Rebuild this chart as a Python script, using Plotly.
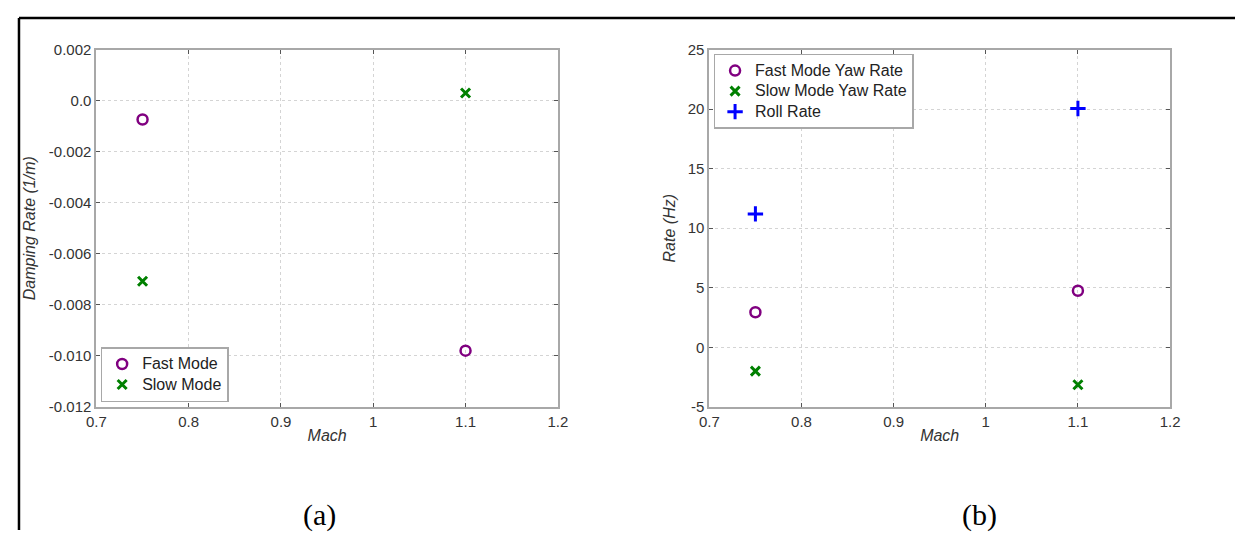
import plotly.graph_objects as go

# Page body has an 8px default margin; size the figure so the page fits the window exactly.
OFF = 8
W, H = 1253 - 2 * OFF, 546 - 2 * OFF

mach = [0.75, 1.1]
fast_damping = [-0.00074, -0.0098]
slow_damping = [-0.00708, 0.0003]
fast_yaw = [2.94, 4.75]
slow_yaw = [-2.0, -3.15]
roll_rate = [11.2, 20.05]

x_ticks = [0.7, 0.8, 0.9, 1.0, 1.1, 1.2]
x_ticktext = ["0.7", "0.8", "0.9", "1", "1.1", "1.2"]
left_yticks = [0.002, 0.0, -0.002, -0.004, -0.006, -0.008, -0.010, -0.012]
left_yticktext = ["0.002", "0.0", "-0.002", "-0.004", "-0.006", "-0.008", "-0.010", "-0.012"]
right_yticks = [25, 20, 15, 10, 5, 0, -5]
right_yticktext = ["25", "20", "15", "10", "5", "0", "-5"]

PURPLE = "#800080"
GREEN = "#008000"
BLUE = "#0000ff"

def big(s):
    return '<span style="font-size:16px">' + s + '</span>'

fig = go.Figure()

fig.add_trace(go.Scatter(x=mach, y=fast_damping, mode="markers", name=big("Fast Mode"),
                         marker=dict(symbol="circle-open", size=10, color=PURPLE, line=dict(width=2.5, color=PURPLE)),
                         xaxis="x", yaxis="y", legend="legend"))
fig.add_trace(go.Scatter(x=mach, y=slow_damping, mode="markers", name=big("Slow Mode"),
                         marker=dict(symbol="x-thin-open", size=9, color=GREEN, line=dict(width=3, color=GREEN)),
                         xaxis="x", yaxis="y", legend="legend"))
fig.add_trace(go.Scatter(x=mach, y=fast_yaw, mode="markers", name=big("Fast Mode Yaw Rate"),
                         marker=dict(symbol="circle-open", size=10, color=PURPLE, line=dict(width=2.5, color=PURPLE)),
                         xaxis="x2", yaxis="y2", legend="legend2"))
fig.add_trace(go.Scatter(x=mach, y=slow_yaw, mode="markers", name=big("Slow Mode Yaw Rate"),
                         marker=dict(symbol="x-thin-open", size=9, color=GREEN, line=dict(width=3, color=GREEN)),
                         xaxis="x2", yaxis="y2", legend="legend2"))
fig.add_trace(go.Scatter(x=mach, y=roll_rate, mode="markers", name=big("Roll Rate"),
                         marker=dict(symbol="cross-thin-open", size=11, color=BLUE, line=dict(width=3, color=BLUE)),
                         xaxis="x2", yaxis="y2", legend="legend2"))

def px_x(v):
    return (v - OFF) / W

def px_y(v):
    return 1 - (v - OFF) / H

axis_common = dict(
    showline=True, linecolor="#a8a8a8", linewidth=2, mirror="ticks",
    ticks="inside", ticklen=4, tickcolor="#555", tickwidth=1,
    showgrid=True, gridcolor="#d4d4d4", griddash="dot", gridwidth=1,
    zeroline=False,
    tickfont=dict(family="Liberation Sans, Arial", size=15, color="#333"),
)
xtitle_font = dict(family="Liberation Sans, Arial", size=16, color="#333")
ytitle_font = dict(family="Liberation Sans, Arial", size=16, color="#333")
legend_font = dict(family="Liberation Sans, Arial", size=13.5, color="#222")

fig.update_layout(
    width=W, height=H,
    margin=dict(l=0, r=0, t=0, b=0),
    paper_bgcolor="white", plot_bgcolor="white",
    xaxis=dict(domain=[px_x(87.7), px_x(556.7)], range=[0.7, 1.2], anchor="y",
               tickvals=x_ticks, ticktext=x_ticktext,
               title=dict(text="<i>Mach</i>", font=xtitle_font, standoff=1), **axis_common),
    yaxis=dict(domain=[px_y(410.7), px_y(41.7)], range=[-0.012, 0.002], anchor="x",
               tickvals=left_yticks, ticktext=left_yticktext,
               title=dict(text="<i>Damping Rate (1/m)</i>", font=ytitle_font, standoff=9), **axis_common),
    xaxis2=dict(domain=[px_x(710.7), px_x(1179)], range=[0.7, 1.2], anchor="y2",
                tickvals=x_ticks, ticktext=x_ticktext,
                title=dict(text="<i>Mach</i>", font=xtitle_font, standoff=1), **axis_common),
    yaxis2=dict(domain=[px_y(410.7), px_y(41.7)], range=[-5, 25], anchor="x2",
                tickvals=right_yticks, ticktext=right_yticktext,
                title=dict(text="<i>Rate (Hz)</i>", font=ytitle_font, standoff=8), **axis_common),
    legend=dict(x=px_x(92), y=px_y(406), xanchor="left", yanchor="bottom",
                bgcolor="white", bordercolor="#a8a8a8", borderwidth=1.5,
                font=legend_font, itemwidth=30, tracegroupgap=0),
    legend2=dict(x=px_x(715), y=px_y(46), xanchor="left", yanchor="top",
                 bgcolor="white", bordercolor="#a8a8a8", borderwidth=1.5,
                 font=legend_font, itemwidth=30, tracegroupgap=0),
    showlegend=True,
)

fig.add_annotation(text="(a)", x=px_x(314), y=px_y(522), xref="paper", yref="paper",
                   xanchor="center", yanchor="middle", showarrow=False,
                   font=dict(family="Liberation Serif, Times New Roman", size=30, color="black"))
fig.add_annotation(text="(b)", x=px_x(985), y=px_y(522), xref="paper", yref="paper",
                   xanchor="center", yanchor="middle", showarrow=False,
                   font=dict(family="Liberation Serif, Times New Roman", size=30, color="black"))

# outer frame (top and left edges)
fig.add_shape(type="line", xref="paper", yref="paper", x0=px_x(9), x1=1.0, y0=px_y(9), y1=px_y(9),
              line=dict(color="black", width=2.5))
fig.add_shape(type="line", xref="paper", yref="paper", x0=px_x(9), x1=px_x(9), y0=px_y(9), y1=0,
              line=dict(color="black", width=2.5))

fig.write_html("out.html")
